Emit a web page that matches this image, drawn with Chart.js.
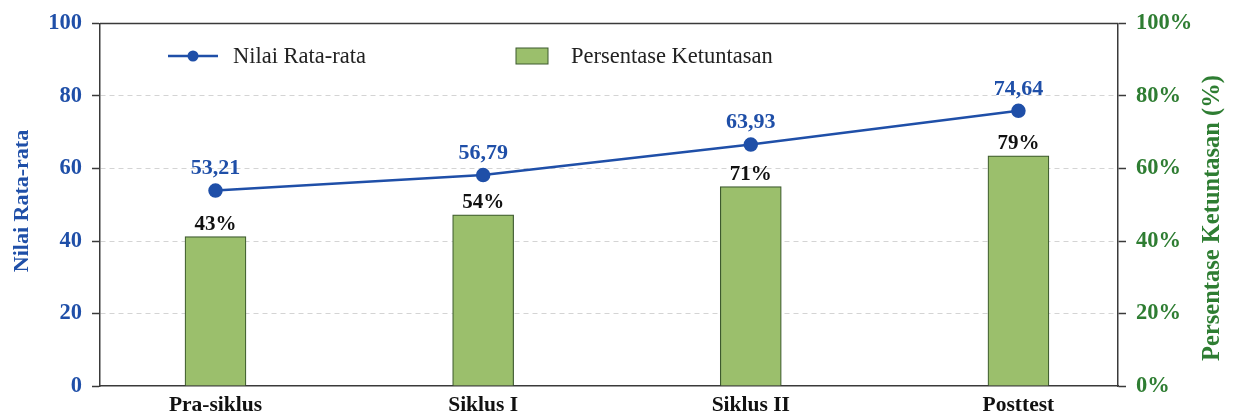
<!DOCTYPE html>
<html lang="id">
  <head>
    <meta charset="UTF-8" />
    <title>Nilai Rata-rata dan Persentase Ketuntasan</title>
    <script src="https://cdn.jsdelivr.net/npm/chart.js"></script>
    <style>
      html,body{margin:0;padding:0;background:#fff}
      #wrap{width:1233px;height:412px}
    </style>
  </head>
  <body>
    <div id="wrap"><canvas id="chart" width="1233" height="412"></canvas></div>
    <script>
      // data
      const categories = ['Pra-siklus', 'Siklus I', 'Siklus II', 'Posttest'];
      const avgValues = [53.9, 58.2, 66.6, 75.9];
      const avgLabels = ['53,21', '56,79', '63,93', '74,64'];
      const pctValues = [41.2, 47.2, 55.0, 63.5];
      const pctLabels = ['43%', '54%', '71%', '79%'];
      const leftTicks = [0, 20, 40, 60, 80, 100];
      const rightTicks = [0, 20, 40, 60, 80, 100];

      const BLUE = '#1f4fa8', GREEN = '#2e7d32', FRAME = '#3a3a3a';
      const SERIF = '"Liberation Serif", "DejaVu Serif", serif';

      // labels above points / bars, legend, axis titles, top frame line
      const extras = {
        id: 'extras',
        afterDatasetsDraw(chart) {
          const ctx = chart.ctx;
          const area = chart.chartArea;
          ctx.save();
          ctx.textAlign = 'center';
          ctx.textBaseline = 'middle';
          ctx.font = 'bold 21px ' + SERIF;
          ctx.fillStyle = '#111';
          chart.getDatasetMeta(0).data.forEach((el, i) => ctx.fillText(pctLabels[i], el.x, el.y - 12));
          ctx.font = 'bold 22px ' + SERIF;
          ctx.fillStyle = BLUE;
          chart.getDatasetMeta(1).data.forEach((el, i) => ctx.fillText(avgLabels[i], el.x, el.y - 22));

          // top frame
          ctx.strokeStyle = FRAME;
          ctx.lineWidth = 1.5;
          ctx.beginPath();
          ctx.moveTo(area.left, area.top);
          ctx.lineTo(area.right, area.top);
          ctx.stroke();

          // legend
          ctx.strokeStyle = BLUE;
          ctx.lineWidth = 2.5;
          ctx.beginPath();
          ctx.moveTo(168, 56);
          ctx.lineTo(218, 56);
          ctx.stroke();
          ctx.fillStyle = BLUE;
          ctx.beginPath();
          ctx.arc(193, 56, 5.5, 0, Math.PI * 2);
          ctx.fill();
          ctx.fillStyle = '#9bbf6c';
          ctx.fillRect(516, 48, 32, 16);
          ctx.strokeStyle = '#3d5a2e';
          ctx.lineWidth = 1;
          ctx.strokeRect(516, 48, 32, 16);
          ctx.font = '22.5px ' + SERIF;
          ctx.fillStyle = '#222';
          ctx.textAlign = 'left';
          ctx.fillText('Nilai Rata-rata', 233, 57);
          ctx.fillText('Persentase Ketuntasan', 571, 57);

          // axis titles, both reading bottom to top
          ctx.font = 'bold 22px ' + SERIF;
          ctx.textAlign = 'center';
          ctx.fillStyle = BLUE;
          ctx.save();
          ctx.translate(22, 201);
          ctx.rotate(-Math.PI / 2);
          ctx.fillText('Nilai Rata-rata', 0, 0);
          ctx.restore();
          ctx.font = 'bold 24.5px ' + SERIF;
          ctx.fillStyle = GREEN;
          ctx.save();
          ctx.translate(1213, 218);
          ctx.rotate(-Math.PI / 2);
          ctx.fillText('Persentase Ketuntasan (%)', 0, 0);
          ctx.restore();
          ctx.restore();
        }
      };

      new Chart(document.getElementById('chart'), {
        data: {
          datasets: [
            {
              type: 'bar',
              label: 'Persentase Ketuntasan',
              data: pctValues.map((v, i) => ({ x: i, y: v })),
              yAxisID: 'y1',
              backgroundColor: '#9bbf6c',
              borderColor: '#3d5a2e',
              borderWidth: 1.2,
              barThickness: 61,
              order: 2
            },
            {
              type: 'line',
              label: 'Nilai Rata-rata',
              data: avgValues.map((v, i) => ({ x: i, y: v })),
              yAxisID: 'y',
              borderColor: BLUE,
              backgroundColor: BLUE,
              borderWidth: 2.5,
              pointRadius: 6,
              pointHoverRadius: 6,
              tension: 0,
              order: 1
            }
          ]
        },
        options: {
          responsive: false,
          animation: false,
          layout: { padding: { top: 22, left: 0, right: 0, bottom: 0 } },
          plugins: { legend: { display: false }, tooltip: { enabled: false } },
          scales: {
            x: {
              type: 'linear',
              offset: false,
              min: -0.4315,
              max: 3.372,
              afterBuildTicks: s => { s.ticks = categories.map((c, i) => ({ value: i })); },
              afterFit: s => { s.height = 26; },
              grid: { display: false, drawTicks: false, offset: false },
              border: { display: true, color: FRAME, width: 1.5 },
              ticks: {
                padding: 7,
                color: '#111',
                font: { family: SERIF, size: 21.5, weight: 'bold' },
                callback: v => categories[v]
              }
            },
            y: {
              position: 'left',
              min: 0,
              max: 100,
              afterBuildTicks: s => { s.ticks = leftTicks.map(v => ({ value: v })); },
              afterFit: s => { s.width = 100; },
              grid: {
                color: c => (c.tick && (c.tick.value === 0 || c.tick.value === 100)) ? 'rgba(0,0,0,0)' : '#d4d4d4',
                lineWidth: 1,
                tickColor: FRAME,
                tickLength: 8,
                tickWidth: 1.5
              },
              border: { display: true, color: FRAME, width: 1.5, dash: [5, 4] },
              ticks: {
                padding: 10,
                color: BLUE,
                font: { family: SERIF, size: 22.5, weight: 'bold' }
              }
            },
            y1: {
              position: 'right',
              min: 0,
              max: 100,
              afterBuildTicks: s => { s.ticks = rightTicks.map(v => ({ value: v })); },
              afterFit: s => { s.width = 115; },
              grid: {
                drawOnChartArea: false,
                tickColor: FRAME,
                tickLength: 8,
                tickWidth: 1.5
              },
              border: { display: true, color: FRAME, width: 1.5 },
              ticks: {
                padding: 10,
                color: GREEN,
                font: { family: SERIF, size: 22.5, weight: 'bold' },
                callback: v => v + '%'
              }
            }
          }
        },
        plugins: [extras]
      });
    </script>
  </body>
</html>
